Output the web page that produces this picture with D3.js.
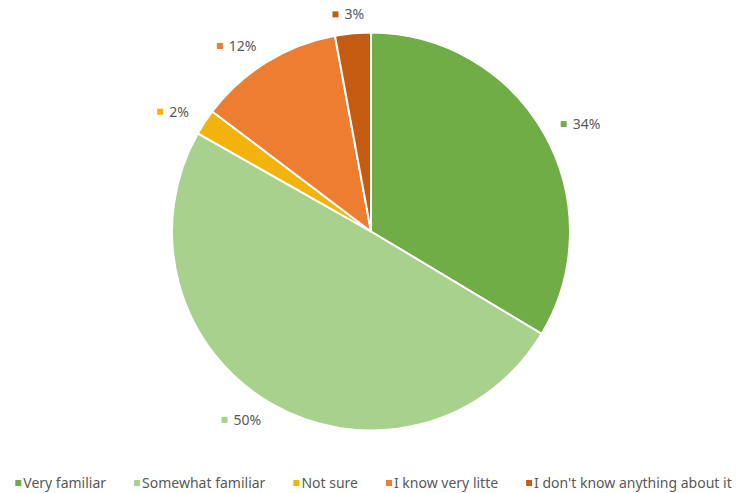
<!DOCTYPE html>
<html><head><meta charset="utf-8">
<script src="https://cdn.jsdelivr.net/npm/d3@7"></script>
<style>body{margin:0;background:#fff}svg{display:block}text{font-family:"Noto Sans",sans-serif;fill:#595959}</style>
</head><body>
<svg id="c" width="740" height="493"></svg>
<script>
const categories = ["Very familiar","Somewhat familiar","Not sure","I know very litte","I don't know anything about it"];
const values = [33.6, 49.6, 2.1, 11.8, 2.9];
const labels = ["34%","50%","2%","12%","3%"];
const colors = ["#70AD47","#A9D18E","#F2B30C","#ED7D31","#C55A11"];

const svg = d3.select("#c");
const cx = 371, cy = 231.5, R = 199;
const data = categories.map((c,i)=>({cat:c,v:values[i],label:labels[i],color:colors[i]}));
const pie = d3.pie().value(d=>d.v).sort(null);
const arcs = pie(data);
const arc = d3.arc().innerRadius(0).outerRadius(R);
const g = svg.append("g").attr("transform",`translate(${cx},${cy})`);
g.selectAll("path").data(arcs).join("path")
  .attr("d",arc).attr("fill",d=>d.data.color)
  .attr("stroke","#fff").attr("stroke-width",2).attr("stroke-linejoin","round");

// data labels (outside end)
const rL = 218;
arcs.forEach(a=>{
  const ang = (a.startAngle+a.endAngle)/2;
  const lg = g.append("g");
  const t = lg.append("text").attr("x",12).attr("y",0).attr("dy","0.35em")
    .style("font-size","14px").text(a.data.label);
  const tw = t.node().getComputedTextLength();
  lg.append("rect").attr("x",0).attr("y",-3).attr("width",6).attr("height",6).attr("fill",a.data.color);
  const hw = (12+tw)/2;
  const s = Math.sin(ang), c = -Math.cos(ang);
  const x = s*rL + hw*Math.max(-1,Math.min(1,2*s)), y = c*rL;
  lg.attr("transform",`translate(${x-hw},${y})`);
});

// legend
const leg = svg.append("g");
let x = 0;
data.forEach(d=>{
  const it = leg.append("g").attr("transform",`translate(${x},0)`);
  it.append("rect").attr("x",0).attr("y",-3).attr("width",6).attr("height",6).attr("fill",d.color);
  const t = it.append("text").attr("x",8).attr("dy","0.35em").style("font-size","14px").text(d.cat);
  x += 8 + t.node().getComputedTextLength() + 28;
});
const total = x - 28;
leg.attr("transform",`translate(${373.5-total/2},483)`);
</script>
</body></html>
